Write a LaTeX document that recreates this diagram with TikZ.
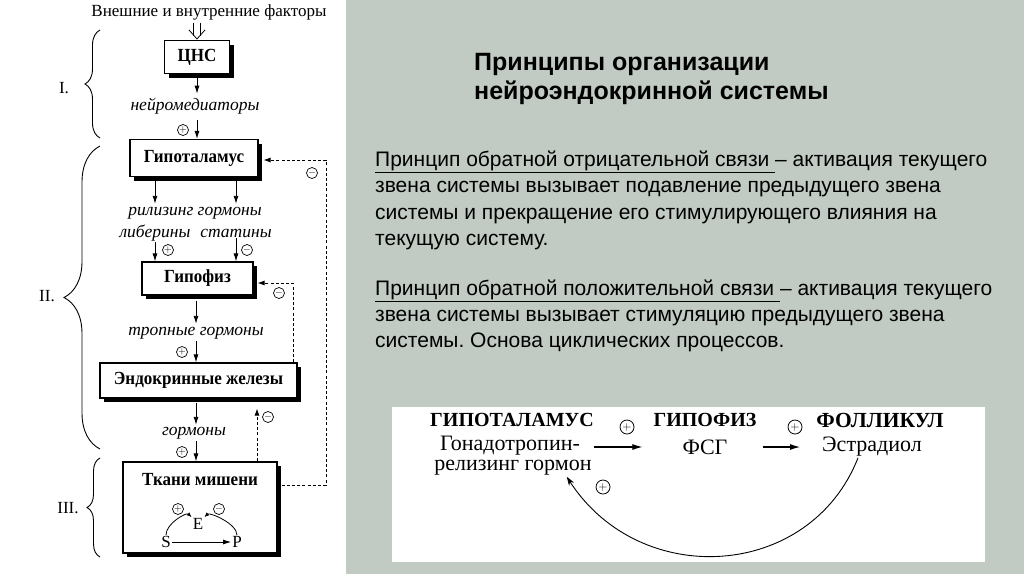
\documentclass[tikz,border=0pt]{standalone}
\usepackage{fontspec}
\setmainfont{Liberation Serif}
\newfontfamily\cser[FakeStretch=0.92]{Liberation Serif}
\newfontfamily\sansf{Liberation Sans}
\usetikzlibrary{arrows.meta,shadows,decorations.pathreplacing,calc}
\definecolor{panel}{RGB}{193,203,195}
\frenchspacing
\begin{document}
\begin{tikzpicture}[x=1pt,y=-1pt,
 box/.style={draw,line width=1.1pt,fill=white,inner sep=0pt,font=\cser\bfseries\fontsize{18.5}{20}\selectfont,
   drop shadow={shadow xshift=4pt,shadow yshift=-4pt,opacity=1,fill=black}},
 lbl/.style={inner sep=1pt,font=\itshape\fontsize{17.5}{19}\selectfont},
 up/.style={inner sep=1pt,font=\fontsize{17}{19}\selectfont},
 arr/.style={line width=0.9pt,-{Latex[length=8pt,width=5pt]}},
 fb/.style={line width=0.8pt,dash pattern=on 3pt off 2.2pt,-{Latex[length=7pt,width=5pt]}},
 dbl/.style={line width=0.8pt},
 sgn/.style={circle,draw,line width=0.7pt,inner sep=0pt,minimum size=11pt,font=\fontsize{10}{10}\selectfont},
 sgnb/.style={circle,draw,line width=0.8pt,inner sep=0pt,minimum size=14pt,font=\fontsize{12}{12}\selectfont},
 brc/.style={decorate,line width=0.9pt},
 ttl/.style={anchor=base west,inner sep=0pt,font=\sansf\bfseries\fontsize{25}{29}\selectfont},
 par/.style={anchor=base west,inner sep=0pt,font=\sansf\fontsize{21}{26}\selectfont},
 capb/.style={inner sep=1pt,font=\bfseries\fontsize{20}{22}\selectfont},
 rt/.style={inner sep=1pt,font=\fontsize{22}{22}\selectfont},
 arr2/.style={line width=1.1pt,-{Latex[length=10pt,width=6pt]}},
 arr3/.style={line width=0.9pt,-{Stealth[length=9pt,width=6pt]}},
]
% panels
\fill[white] (0,0) rectangle (346,574);
\fill[panel] (346,0) rectangle (1024,574);
\useasboundingbox (0,0) rectangle (1024,574);

% ---------- left diagram ----------
\node[up] (ext) at (209,12) {Внешние и внутренние факторы};
\node[box,minimum width=65pt,minimum height=33pt] (cns) at (197,57) {ЦНС};
% double (hollow) arrow from the factors to the CNS
\draw[dbl] ([xshift=-3.5pt,yshift=-2pt]ext.south -| cns.north) -- ([xshift=-3.5pt,yshift=4pt]cns.north);
\draw[dbl] ([xshift=3.5pt,yshift=-2pt]ext.south -| cns.north) -- ([xshift=3.5pt,yshift=4pt]cns.north);
\draw[dbl] ([xshift=-8pt,yshift=10pt]cns.north) -- ([yshift=1pt]cns.north) -- ([xshift=8pt,yshift=10pt]cns.north);
\node[lbl] (nm) at (195,106) {нейромедиаторы};
\draw[arr] ([yshift=-4pt]cns.south) -- ([yshift=3pt]nm.north -| cns.south);

\node[box,minimum width=128pt,minimum height=37pt] (hyp) at (194,158) {Гипоталамус};
\node[sgn] (p1) at (183,130) {$+$};
\draw[arr] ([yshift=-5pt]nm.south -| cns.south) -- (hyp.north -| cns.south);

\node[lbl] (rel) at (195,213) {рилизинг гормоны};
\node[lbl] (lib) at (155,233) {либерины};
\node[lbl] (stat) at (236,233) {статины};
\draw[arr] ([yshift=-4pt]hyp.south -| lib) -- ([yshift=2pt]rel.north -| lib);
\draw[arr] ([yshift=-4pt]hyp.south -| stat) -- ([yshift=2pt]rel.north -| stat);

\node[box,minimum width=111pt,minimum height=33pt] (pit) at (197.5,278.5) {Гипофиз};
\node[sgn] (p2) at (168,250) {$+$};
\node[sgn] (m2) at (247,250) {$-$};
\draw[arr] (lib.south) -- (pit.north -| lib);
\draw[arr] (stat.south) -- (pit.north -| stat);

\node[lbl] (tg) at (196,333) {тропные гормоны};
\draw[arr] ([yshift=-5pt]pit.south -| tg) -- ([yshift=2pt]tg.north);

\node[box,minimum width=197pt,minimum height=35pt] (endo) at (198.5,380.5) {Эндокринные железы};
\node[sgn] (p3) at (182,352) {$+$};
\draw[arr] ([yshift=-1pt]tg.south) -- (endo.north -| tg);

\node[lbl] (gm) at (194,433) {гормоны};
\draw[arr] ([yshift=-4pt]endo.south -| tg) -- ([yshift=1pt]gm.north -| tg);

\node[box,minimum width=154pt,minimum height=91pt] (tgt) at (200,507.5) {};
\node[sgn] (p4) at (182,452) {$+$};
\draw[arr] ([yshift=-1pt]gm.south -| tg) -- (tgt.north -| tg);

\node[inner sep=1pt,font=\cser\bfseries\fontsize{18.5}{20}\selectfont] (tm) at (200,480) {Ткани мишени};
\node[up] (S) at (166,542) {S};
\node[up] (P) at (237,542) {P};
\node[up] (E) at (198,524) {E};
\draw[arr,line width=0.8pt] (S.east) -- (P.west);
\draw[line width=0.8pt,-{Latex[length=5pt,width=4pt]}] (S.north) .. controls +(0,-12) and +(-5,-5) .. (E.north west);
\draw[line width=0.8pt,-{Latex[length=5pt,width=4pt]}] (P.north) .. controls +(0,-12) and +(5,-5) .. (E.north east);
\node[sgn] (p5) at (178,509) {$+$};
\node[sgn] (m5) at (219,509) {$-$};

% feedback loops
\coordinate (o1) at (326,485);
\coordinate (o2) at (326,160);
\draw[fb] ([xshift=4pt]tgt.east |- o1) -- (o1) -- (o2) -- ([xshift=5pt]o2 -| hyp.east);
\node[sgn] (m1) at (312,173) {$-$};

\coordinate (q1) at (293,283);
\draw[fb] (endo.north -| q1) -- (q1) -- ([xshift=4pt]q1 -| pit.east);
\node[sgn] (m3) at (279,293) {$-$};

\coordinate (i1) at (257,430);
\draw[fb] (tgt.north -| i1) -- ([yshift=-10pt]endo.south -| i1);
\node[sgn] (m4) at (268,417) {$-$};

% braces
\draw[brc,decoration={brace,amplitude=15pt}] (100,138) -- (100,30);
\draw[brc,decoration={brace,amplitude=36pt}] (100,449) -- (100,146);
\draw[brc,decoration={brace,amplitude=13pt}] (100,557) -- (100,458);
\node[up] (l1) at (64,88) {I.};
\node[up] (l2) at (47,296) {II.};
\node[up] (l3) at (68,508) {III.};

% ---------- right panel ----------
\node[ttl] (t1) at (474,70) {Принципы организации};
\node[ttl] (t2) at (474,99) {нейроэндокринной системы};

\node[par] (a1) at (375,166) {\underline{Принцип обратной отрицательной связи }– активация текущего};
\node[par] (a2) at (375,192.5) {звена системы вызывает подавление предыдущего звена};
\node[par] (a3) at (375,219) {системы и прекращение его стимулирующего влияния на};
\node[par] (a4) at (375,245) {текущую систему.};

\node[par] (b1) at (375,295) {\underline{Принцип обратной положительной связи }– активация текущего};
\node[par] (b2) at (375,321) {звена системы вызывает стимуляцию предыдущего звена};
\node[par] (b3) at (375,347) {системы. Основа циклических процессов.};

% bottom white figure
\fill[white] (392,407) rectangle (985,562);
\node[capb] (H) at (512,420) {ГИПОТАЛАМУС};
\node[capb] (G) at (705,420) {ГИПОФИЗ};
\node[capb,font=\bfseries\fontsize{21.5}{22}\selectfont] (F) at (880,420) {ФОЛЛИКУЛ};
\node[rt] (gon) at (510,446) {Гонадотропин-};
\node[rt] (grh) at (513,468) {релизинг гормон};
\node[rt] (fsg) at (705,447) {ФСГ};
\node[rt] (est) at (872,447) {Эстрадиол};
\draw[arr2] ([xshift=13pt]gon.east |- fsg) -- ([xshift=-39pt]fsg.west);
\draw[arr2] ([xshift=34pt]fsg.east) -- ([xshift=-21pt]est.west);
\node[sgnb] (q2) at (627,427) {$+$};
\node[sgnb] (q3) at (795,427) {$+$};
\draw[arr3] ($(est.south)+(-14,0)$) .. controls (810,580) and (640,590) .. ($(grh.south east)+(-26,0)$);
\node[sgnb] (q4) at (603,487) {$+$};
\end{tikzpicture}
\end{document}
